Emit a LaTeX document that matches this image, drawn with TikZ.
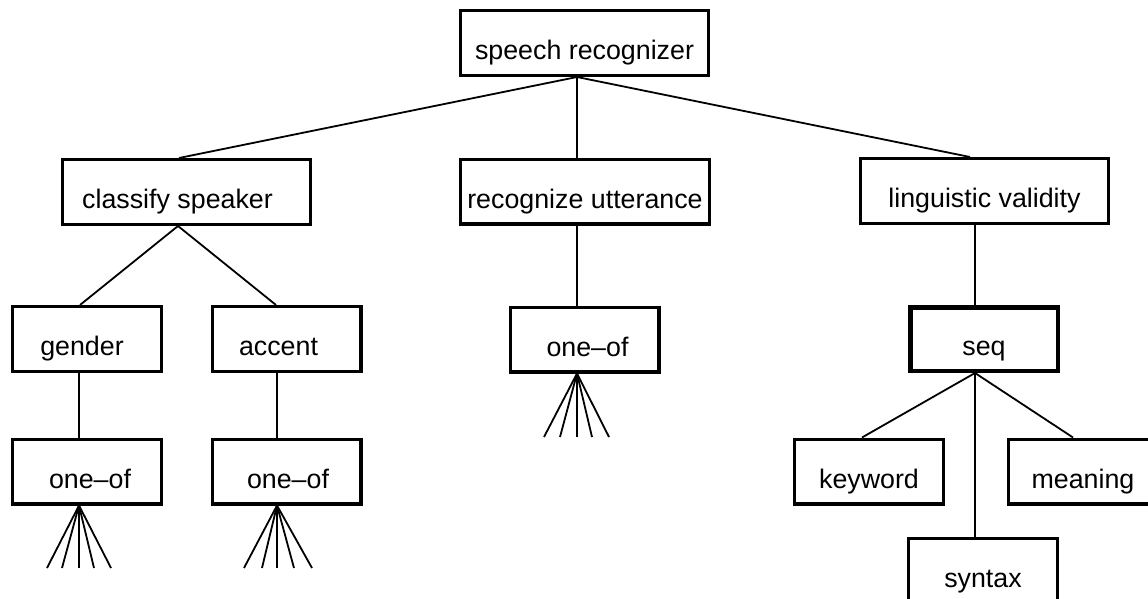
\documentclass[tikz,border=0pt]{standalone}
\usepackage{fontspec}
\setmainfont{Liberation Sans}
\tikzset{
  box/.style={draw, line width=3.3pt, inner sep=0pt, text height=33pt, text depth=0pt,
    font=\fontsize{26.8pt}{32pt}\selectfont},
  smallbox/.style={box, minimum width=148.7pt, minimum height=64.7pt},
  bigbox/.style={box, minimum width=248.5pt, minimum height=64.7pt},
  conn/.style={line width=1.8pt},
}
\begin{document}
\begin{tikzpicture}[x=1pt,y=-1pt]
\useasboundingbox (0,0) rectangle (1148,599);
\clip (0,0) rectangle (1148,599);

% boxes
\node[bigbox] (sr) at (584.5,43) {speech recognizer};
\node[bigbox] (cs) at (186.5,192) {classify speaker\hspace*{18pt}};
\node[bigbox] (ru) at (585,191.5) {recognize utterance};
\node[bigbox] (lv) at (984.5,191) {linguistic validity};
\node[smallbox] (gen) at (87,339) {gender\hspace*{10pt}};
\node[smallbox] (acc) at (286.5,339) {accent\hspace*{16pt}};
\node[smallbox] (o3) at (584.5,339.5) {\hspace*{6pt}one–of};
\node[smallbox, line width=4.5pt, minimum width=147.5pt, minimum height=63.5pt] (seq) at (984,339) {seq};
\node[smallbox] (o1) at (87,471.5) {\hspace*{6pt}one–of};
\node[smallbox] (o2) at (286.5,471.5) {\hspace*{3pt}one–of};
\node[smallbox] (kw) at (869,471.5) {keyword};
\node[smallbox] (mean) at (1083,471.5) {meaning};
\node[smallbox] (syn) at (983,571) {syntax};

% tree connectors
\draw[conn] ([xshift=-7.5pt]sr.south) -- ([xshift=-7.5pt]cs.north);
\draw[conn] ([xshift=-7.5pt]sr.south) -- ([xshift=-8pt]ru.north);
\draw[conn] ([xshift=-7.5pt]sr.south) -- ([xshift=-14.5pt]lv.north);
\draw[conn] ([xshift=-8.5pt]cs.south) -- ([xshift=-7pt]gen.north);
\draw[conn] ([xshift=-8.5pt]cs.south) -- ([xshift=-10.5pt]acc.north);
\draw[conn] ([xshift=-8pt]ru.south) -- ([xshift=-7.5pt]o3.north);
\draw[conn] ([xshift=-8pt]gen.south) -- ([xshift=-8pt]o1.north);
\draw[conn] ([xshift=-9.5pt]acc.south) -- ([xshift=-9.5pt]o2.north);
\draw[conn] ([xshift=-9.5pt]lv.south) -- ([xshift=-9pt]seq.north);
\draw[conn] ([xshift=-9pt]seq.south) -- ([xshift=-7pt]kw.north);
\draw[conn] ([xshift=-9pt]seq.south) -- ([xshift=-10pt]mean.north);
\draw[conn] ([xshift=-9pt]seq.south) -- ([xshift=-8pt]syn.north);

% fans
\coordinate (a1) at (47,568);  \coordinate (a2) at (62,568);  \coordinate (a3) at (79,568);
\coordinate (a4) at (94,568);  \coordinate (a5) at (111,568);
\coordinate (b1) at (244,568); \coordinate (b2) at (262,568); \coordinate (b3) at (277,568);
\coordinate (b4) at (294,568); \coordinate (b5) at (312,568);
\coordinate (c1) at (544,437); \coordinate (c2) at (560,437); \coordinate (c3) at (577,437);
\coordinate (c4) at (592,437); \coordinate (c5) at (609,437);
\foreach \i in {1,...,5} {
  \draw[conn] ([xshift=-8pt]o1.south) -- (a\i);
  \draw[conn] ([xshift=-9.5pt]o2.south) -- (b\i);
  \draw[conn] ([xshift=-7.5pt]o3.south) -- (c\i);
}
\end{tikzpicture}
\end{document}
